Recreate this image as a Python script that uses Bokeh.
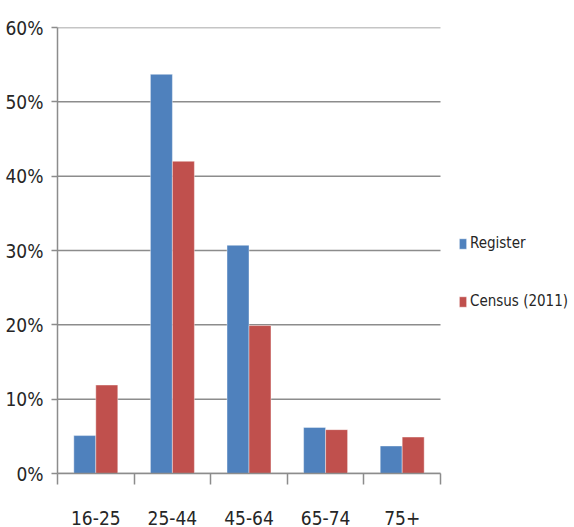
import numpy as np
from bokeh.plotting import figure
from bokeh.models import ColumnDataSource, FixedTicker, NumeralTickFormatter, Range1d
from bokeh.transform import dodge
from bokeh.embed import file_html
from bokeh.resources import INLINE

categories = ["16-25", "25-44", "45-64", "65-74", "75+"]
register = [0.051, 0.537, 0.307, 0.062, 0.037]
census = [0.119, 0.420, 0.199, 0.059, 0.049]
series_names = ["Register", "Census (2011)"]
y_ticks = [0.0, 0.1, 0.2, 0.3, 0.4, 0.5, 0.6]

FONT = "DejaVu Sans Condensed"
TXT = "#262626"
GRID = "#8c8c8c"
BLUE = "#4F81BD"
RED = "#C0504D"

n = len(categories)
centers = [i + 0.5 for i in range(n)]
src = ColumnDataSource(dict(x=centers, register=register, census=census))

W, H = 574, 527
LEFT, TOP, BOTTOM = 57, 27, 53
FRAME_W = W - LEFT
CAT_PX = 76.6  # pixel width of one category
p = figure(output_backend="svg", toolbar_location=None,
           width=W, height=H,
           min_border_left=LEFT, min_border_top=TOP, min_border_bottom=BOTTOM, min_border_right=0,
           x_range=Range1d(0, FRAME_W / CAT_PX), y_range=Range1d(0, 0.6))
p.outline_line_color = None

# horizontal gridlines, restricted to the category area
p.segment(x0=0, x1=n, y0=y_ticks, y1=y_ticks, line_color=GRID, line_width=1.5)

bw = 0.287
r1 = p.vbar(x=dodge("x", -bw / 2, range=p.x_range), top="register", width=bw, source=src,
            fill_color=BLUE, line_color="white", line_alpha=0.5, line_width=0.8,
            legend_label=series_names[0])
r2 = p.vbar(x=dodge("x", bw / 2, range=p.x_range), top="census", width=bw, source=src,
            fill_color=RED, line_color="white", line_alpha=0.5, line_width=0.8,
            legend_label=series_names[1])

# x axis: labels at centers, tick marks at boundaries
p.xaxis.ticker = FixedTicker(ticks=centers, minor_ticks=list(range(n + 1)))
p.xaxis.major_label_overrides = {c: lab for c, lab in zip(centers, categories)}
p.xaxis.bounds = (0, n)
p.xaxis.major_tick_out = 0
p.xaxis.major_tick_in = 0
p.xaxis.minor_tick_out = 11
p.xaxis.minor_tick_in = 0
p.xaxis.minor_tick_line_color = GRID
p.xaxis.minor_tick_line_width = 1.5
p.xaxis.axis_line_color = GRID
p.xaxis.axis_line_width = 1.5
p.xaxis.major_label_text_font = FONT
p.xaxis.major_label_text_font_size = "19px"
p.xaxis.major_label_text_color = TXT
p.xaxis.major_label_standoff = 26
p.xgrid.grid_line_color = None

p.yaxis.ticker = FixedTicker(ticks=y_ticks)
p.yaxis.formatter = NumeralTickFormatter(format="0%")
p.yaxis.major_tick_out = 6
p.yaxis.major_tick_in = 0
p.yaxis.minor_tick_line_color = None
p.yaxis.major_tick_line_color = GRID
p.yaxis.major_tick_line_width = 1.5
p.yaxis.axis_line_color = GRID
p.yaxis.axis_line_width = 1.5
p.yaxis.major_label_text_font = FONT
p.yaxis.major_label_text_font_size = "19px"
p.yaxis.major_label_text_color = TXT
p.yaxis.major_label_standoff = 8
p.ygrid.grid_line_color = None

leg = p.legend[0]
leg.label_text_font = FONT
leg.label_text_font_size = "15px"
leg.label_text_color = TXT
leg.glyph_width = 9
leg.glyph_height = 13
leg.spacing = 40
leg.label_standoff = 3
leg.border_line_color = None
leg.background_fill_alpha = 0
leg.padding = 0
leg.margin = 0
leg.location = (401, 163)

open("out.html", "w").write(file_html(p, INLINE))
